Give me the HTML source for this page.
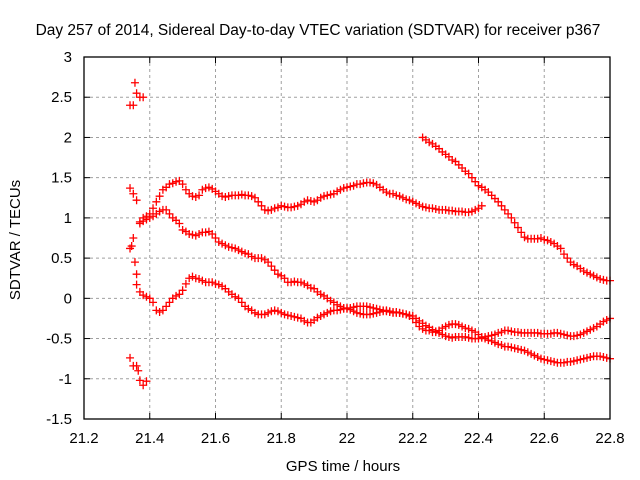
<!DOCTYPE html>
<html><head><meta charset="utf-8">
<style>
html,body{margin:0;padding:0;background:#fff;}
svg{display:block;font-family:"Liberation Sans",sans-serif;}
</style></head>
<body>
<svg id="chart" width="640" height="480" viewBox="0 0 640 480" xmlns="http://www.w3.org/2000/svg">
<rect x="0" y="0" width="640" height="480" fill="#fff"/>
<text x="318" y="35" font-size="15.5" text-anchor="middle" fill="#000">Day 257 of 2014, Sidereal Day-to-day VTEC variation (SDTVAR) for receiver p367</text>
<text x="343" y="471" font-size="15" text-anchor="middle" fill="#000">GPS time / hours</text>
<text transform="translate(20,240) rotate(-90)" font-size="15" text-anchor="middle" fill="#000">SDTVAR / TECUs</text>
<g id="grid"></g>
<g id="ticks"></g>
<g id="marks"></g>
<rect x="84" y="57" width="526" height="362" fill="none" stroke="#000" stroke-width="1.3"/>
</svg>
<script>
const xTicks=[21.2,21.4,21.6,21.8,22,22.2,22.4,22.6,22.8];
const xTickLabels=["21.2","21.4","21.6","21.8","22","22.2","22.4","22.6","22.8"];
const yTicks=[-1.5,-1,-0.5,0,0.5,1,1.5,2,2.5,3];
const yTickLabels=["-1.5","-1","-0.5","0","0.5","1","1.5","2","2.5","3"];
const stepH=0.01;
const trackAStart=21.37;
const trackAValues=[0.95,1.0,1.02,1.05,1.12,1.2,1.27,1.35,1.38,1.42,
1.43,1.45,1.46,1.42,1.35,1.3,1.27,1.26,1.28,1.35,
1.37,1.38,1.36,1.33,1.3,1.27,1.26,1.27,1.28,1.28,
1.28,1.29,1.28,1.28,1.27,1.25,1.2,1.15,1.1,1.09,
1.1,1.12,1.13,1.15,1.14,1.13,1.13,1.14,1.15,1.17,
1.2,1.22,1.21,1.2,1.22,1.25,1.27,1.28,1.29,1.3,
1.33,1.35,1.37,1.38,1.39,1.4,1.42,1.42,1.43,1.44,
1.44,1.43,1.41,1.38,1.35,1.32,1.3,1.3,1.28,1.27,
1.25,1.23,1.22,1.2,1.18,1.16,1.14,1.13,1.12,1.12,
1.11,1.1,1.1,1.1,1.09,1.09,1.08,1.08,1.08,1.07,
1.07,1.08,1.1,1.12,1.15];
const trackBStart=21.37;
const trackBValues=[0.93,0.96,0.98,1.0,1.02,1.05,1.08,1.1,1.1,1.05,
1.0,0.97,0.93,0.85,0.83,0.8,0.79,0.78,0.8,0.82,
0.82,0.83,0.8,0.75,0.7,0.68,0.66,0.64,0.63,0.62,
0.6,0.58,0.56,0.55,0.52,0.5,0.5,0.5,0.48,0.45,
0.4,0.35,0.3,0.28,0.25,0.2,0.2,0.21,0.2,0.2,
0.18,0.16,0.13,0.12,0.08,0.05,0.03,0.0,-0.03,-0.05,
-0.08,-0.1,-0.12,-0.12,-0.14,-0.16,-0.18,-0.19,-0.2,-0.2,
-0.2,-0.19,-0.18,-0.17,-0.16,-0.16,-0.17,-0.18,-0.18,-0.18,
-0.19,-0.2,-0.21,-0.22,-0.25,-0.28,-0.31,-0.34,-0.36,-0.39,
-0.41,-0.43,-0.45,-0.47,-0.48,-0.49,-0.48,-0.48,-0.48,-0.48,
-0.49,-0.5,-0.5,-0.5,-0.49,-0.48,-0.47,-0.46,-0.45,-0.43,
-0.42,-0.4,-0.4,-0.41,-0.42,-0.42,-0.43,-0.43,-0.43,-0.43,
-0.43,-0.43,-0.44,-0.44,-0.44,-0.44,-0.43,-0.43,-0.44,-0.45,
-0.46,-0.47,-0.47,-0.46,-0.45,-0.43,-0.41,-0.39,-0.37,-0.35,
-0.32,-0.29,-0.27,-0.25];
const trackCStart=21.36;
const trackCValues=[0.17,0.08,0.04,0.02,0.0,-0.05,-0.15,-0.17,-0.15,-0.1,
-0.05,0.0,0.03,0.05,0.1,0.18,0.25,0.27,0.25,0.24,
0.22,0.2,0.2,0.2,0.18,0.17,0.15,0.12,0.08,0.05,
0.02,0.0,-0.05,-0.1,-0.13,-0.15,-0.18,-0.2,-0.2,-0.2,
-0.18,-0.16,-0.15,-0.16,-0.18,-0.2,-0.21,-0.22,-0.23,-0.24,
-0.25,-0.28,-0.3,-0.3,-0.27,-0.24,-0.22,-0.2,-0.18,-0.16,
-0.15,-0.15,-0.14,-0.13,-0.13,-0.12,-0.11,-0.1,-0.1,-0.1,
-0.1,-0.11,-0.12,-0.13,-0.14,-0.15,-0.15,-0.16,-0.17,-0.17,
-0.18,-0.19,-0.2,-0.22,-0.25,-0.3,-0.35,-0.38,-0.4,-0.4,
-0.42,-0.42,-0.4,-0.37,-0.35,-0.33,-0.32,-0.32,-0.33,-0.35,
-0.37,-0.38,-0.4,-0.42,-0.45,-0.48,-0.5,-0.52,-0.53,-0.55,
-0.57,-0.58,-0.6,-0.6,-0.61,-0.62,-0.63,-0.64,-0.65,-0.67,
-0.69,-0.71,-0.73,-0.75,-0.76,-0.77,-0.78,-0.79,-0.8,-0.8,
-0.8,-0.79,-0.79,-0.78,-0.77,-0.76,-0.75,-0.74,-0.73,-0.72,
-0.72,-0.72,-0.73,-0.74,-0.75];
const trackDStart=22.23;
const trackDValues=[2.0,1.97,1.94,1.92,1.89,1.86,1.82,1.79,1.76,1.72,
1.7,1.66,1.62,1.58,1.55,1.5,1.45,1.4,1.38,1.35,
1.32,1.28,1.24,1.2,1.15,1.1,1.05,1.0,0.94,0.88,
0.82,0.76,0.74,0.74,0.74,0.74,0.75,0.73,0.72,0.7,
0.68,0.65,0.62,0.55,0.5,0.45,0.42,0.4,0.37,0.34,
0.32,0.3,0.28,0.26,0.24,0.23,0.22,0.22];
const scatterTimes=[21.34,21.35,21.355,21.36,21.37,21.38,21.34,21.35,21.36,21.365,21.37,21.38,21.39,21.34,21.35,21.36,21.34,21.345,21.35,21.355,21.36];
const scatterValues=[2.4,2.4,2.68,2.55,2.5,2.5,-0.74,-0.84,-0.84,-0.9,-1.02,-1.08,-1.03,1.37,1.3,1.22,0.62,0.65,0.75,0.45,0.3];

const X0=21.2,X1=22.8,Y0=-1.5,Y1=3,L=84,R=610,T=57,B=419;
function xs(v){return L+(v-X0)/(X1-X0)*(R-L);}
function ys(v){return B-(v-Y0)/(Y1-Y0)*(B-T);}
const NS="http://www.w3.org/2000/svg";
const grid=document.getElementById('grid'),ticks=document.getElementById('ticks'),marks=document.getElementById('marks');
function mk(tag,attrs,parent){const e=document.createElementNS(NS,tag);for(const k in attrs)e.setAttribute(k,attrs[k]);parent.appendChild(e);return e;}
xTicks.forEach((v,i)=>{
  const x=xs(v);
  if(i>0&&i<xTicks.length-1){const g=mk('line',{x1:x,x2:x,y1:T,y2:B,stroke:'#a0a0a0','stroke-dasharray':'3,3'},grid);
  
  }
  mk('line',{x1:x,x2:x,y1:B,y2:B-6,stroke:'#000'},ticks);
  mk('line',{x1:x,x2:x,y1:T,y2:T+6,stroke:'#000'},ticks);
  const t=mk('text',{x:x,y:B+24,'font-size':15,'text-anchor':'middle',fill:'#000'},ticks);
  t.textContent=xTickLabels[i];
  
  
});
yTicks.forEach((v,i)=>{
  const y=ys(v);
  if(i>0&&i<yTicks.length-1){const g=mk('line',{x1:L,x2:R,y1:y,y2:y,stroke:'#a0a0a0','stroke-dasharray':'3,3'},grid);
  
  }
  mk('line',{x1:L,x2:L+6,y1:y,y2:y,stroke:'#000'},ticks);
  mk('line',{x1:R,x2:R-6,y1:y,y2:y,stroke:'#000'},ticks);
  const t=mk('text',{x:L-12,y:y+5,'font-size':15,'text-anchor':'end',fill:'#000'},ticks);
  t.textContent=yTickLabels[i];
  
  
});
function cross(t,v,name){
  const x=xs(t),y=ys(v);
  const p=mk('path',{d:`M${x-4},${y}H${x+4}M${x},${y-4}V${y+4}`,stroke:'#ff0000','stroke-width':1.3,fill:'none'},marks);
  
  
}
[[trackAStart,trackAValues,'track-a-point'],[trackBStart,trackBValues,'track-b-point'],[trackCStart,trackCValues,'track-c-point'],[trackDStart,trackDValues,'track-d-point']].forEach(([s,vals,n])=>{
  vals.forEach((v,i)=>cross(s+i*stepH,v,n));
});
scatterTimes.forEach((t,i)=>cross(t,scatterValues[i],'scatter-point'));
</script>
</body></html>
